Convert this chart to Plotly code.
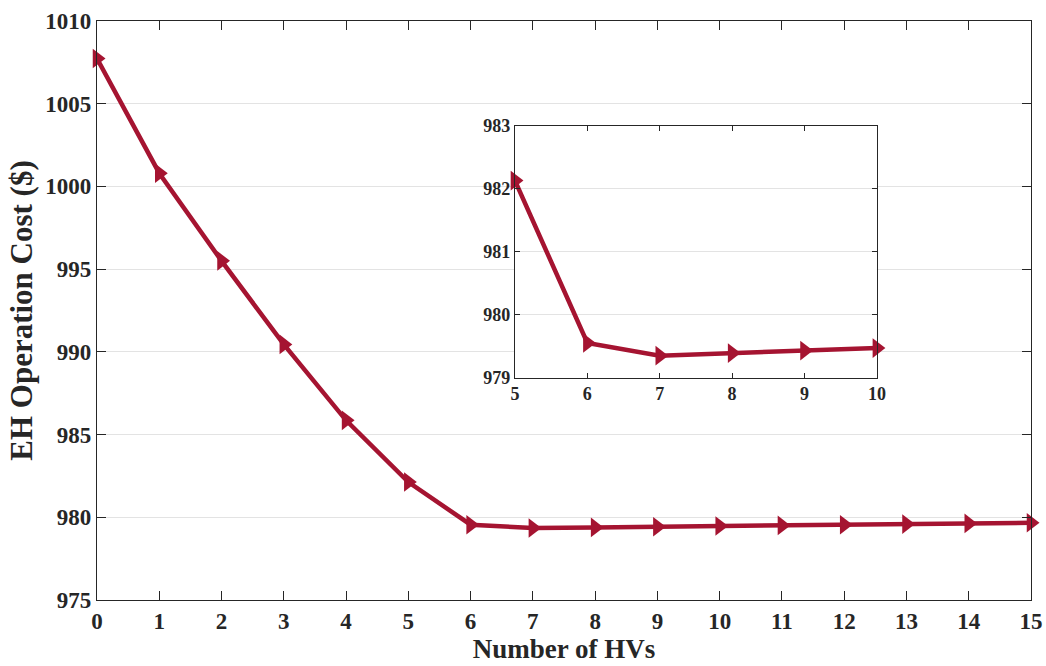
import plotly.graph_objects as go

# Number of HVs and the corresponding EH operation cost
hvs = list(range(0, 16))
cost = [1007.73, 1000.80, 995.50, 990.45, 985.86, 982.13, 979.55, 979.35,
        979.39, 979.43, 979.47, 979.51, 979.55, 979.59, 979.63, 979.67]

# Zoomed view of HVs 5..10
inset_hvs = hvs[5:11]
inset_cost = cost[5:11]

main_ticks_x = list(range(0, 16))
main_ticks_y = [975, 980, 985, 990, 995, 1000, 1005, 1010]
inset_ticks_x = [5, 6, 7, 8, 9, 10]
inset_ticks_y = [979, 980, 981, 982, 983]

line_color = "#A51431"
font_family = "Liberation Serif"
axis_color = "#262626"
grid_color = "#E3E3E3"

fig = go.Figure()

fig.add_trace(go.Scatter(
    x=hvs, y=cost, mode="lines+markers",
    line=dict(color=line_color, width=4.5),
    marker=dict(symbol="triangle-right", size=17, color=line_color),
    cliponaxis=False, showlegend=False, xaxis="x", yaxis="y",
))

fig.add_trace(go.Scatter(
    x=inset_hvs, y=inset_cost, mode="lines+markers",
    line=dict(color=line_color, width=4.5),
    marker=dict(symbol="triangle-right", size=17, color=line_color),
    cliponaxis=False, showlegend=False, xaxis="x2", yaxis="y2",
))

common_axis = dict(
    showline=True, linecolor=axis_color, linewidth=1.3, mirror="ticks",
    ticks="inside", tickcolor=axis_color, zeroline=False, automargin=False,
)

fig.update_layout(
    width=1046, height=666,
    margin=dict(l=97, r=15, t=21, b=66),
    paper_bgcolor="white", plot_bgcolor="white",
    font=dict(family=font_family, color=axis_color),
    xaxis=dict(
        **common_axis, range=[0, 15], tickvals=main_ticks_x, ticklen=9,
        showgrid=False,
        tickfont=dict(size=23, family=font_family, weight="bold"),
        title=dict(text="<b>Number of HVs</b>", font=dict(size=27), standoff=2),
    ),
    yaxis=dict(
        **common_axis, range=[975, 1010], tickvals=main_ticks_y, ticklen=9,
        showgrid=True, gridcolor=grid_color, gridwidth=1,
        tickfont=dict(size=23, family=font_family, weight="bold"),
        title=dict(text="<b>EH Operation Cost ($)</b>", font=dict(size=31), standoff=3),
    ),
    xaxis2=dict(
        **common_axis, range=[5, 10], tickvals=inset_ticks_x, ticklen=5,
        domain=[0.4475, 0.835], anchor="y2", showgrid=False,
        tickfont=dict(size=18, family=font_family, weight="bold"),
    ),
    yaxis2=dict(
        **common_axis, range=[979, 983], tickvals=inset_ticks_y, ticklen=5,
        domain=[0.384, 0.819], anchor="x2",
        showgrid=True, gridcolor=grid_color, gridwidth=1,
        tickfont=dict(size=18, family=font_family, weight="bold"),
    ),
)

fig.write_html("out.html")
